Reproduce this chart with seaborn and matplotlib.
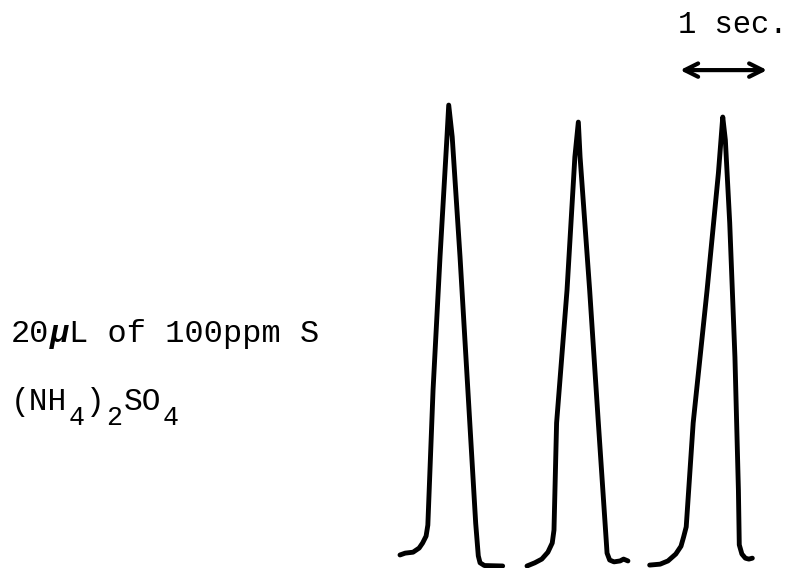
import numpy as np
import pandas as pd
import matplotlib
matplotlib.use("Agg")
import matplotlib.pyplot as plt
import matplotlib.transforms as mtransforms
import seaborn as sns

# ---- data: detector trace (time in s, signal in arbitrary units) ----
peak1_t = [0.00, 0.06, 0.15, 0.22, 0.26, 0.30, 0.32, 0.38, 0.46, 0.54, 0.56,
           0.60, 0.69, 0.78, 0.87, 0.90, 0.92, 0.97, 1.18]
peak1_s = [0.24, 0.28, 0.30, 0.39, 0.50, 0.65, 0.89, 3.83, 6.72, 9.33, 10.02,
           9.33, 6.72, 3.83, 0.93, 0.22, 0.07, 0.01, 0.00]

peak2_t = [1.46, 1.55, 1.63, 1.70, 1.75, 1.77, 1.80, 1.92, 2.01, 2.05,
           2.07, 2.18, 2.28, 2.37, 2.38, 2.41, 2.46, 2.53, 2.57, 2.62]
peak2_s = [0.00, 0.07, 0.15, 0.30, 0.50, 0.78, 3.11, 6.00, 8.89, 9.65,
           8.89, 6.00, 3.11, 0.57, 0.28, 0.13, 0.09, 0.11, 0.15, 0.11]

peak3_t = [2.87, 2.99, 3.08, 3.17, 3.23, 3.26, 3.29, 3.37, 3.53, 3.66, 3.71,
           3.74, 3.79, 3.85, 3.89, 3.90, 3.93, 3.97, 4.01, 4.05]
peak3_s = [0.02, 0.04, 0.11, 0.26, 0.43, 0.63, 0.85, 3.11, 6.00, 8.54, 9.76,
           9.26, 7.46, 4.54, 1.65, 0.46, 0.26, 0.17, 0.15, 0.17]

scale_bar = [3.22, 4.22]          # 1 second
scale_label = "1 sec."
line1_parts = [(0, "20", False), (2, "μ", True), (3, "L of 100ppm S", False)]
line2_parts = [(0, "(NH", False), (3, "4", True), (4, ")", False),
               (5, "2", True), (6, "SO", False), (8, "4", True)]

frames = []
for i, (t, s) in enumerate([(peak1_t, peak1_s), (peak2_t, peak2_s), (peak3_t, peak3_s)]):
    frames.append(pd.DataFrame({"time": t, "signal": s, "injection": i}))
df = pd.concat(frames, ignore_index=True)

sns.set_theme(style="white")
plt.rcParams["font.family"] = ["Liberation Mono", "DejaVu Sans Mono"]

fig = plt.figure(figsize=(7.92, 5.68), dpi=100)
ax = fig.add_axes([0, 0, 1, 1])

sns.lineplot(data=df, x="time", y="signal", units="injection", estimator=None,
             sort=False, color="black", linewidth=3.5, ax=ax, legend=False)
for ln in ax.get_lines():
    ln.set_solid_capstyle("round")
    ln.set_solid_joinstyle("round")

ax.set_xlim(-4.598, 4.506)
ax.set_ylim(-0.0435, 12.304)
ax.set_axis_off()

# scale bar
ax.annotate("", xy=(scale_bar[1], 10.78), xytext=(scale_bar[0], 10.78),
            arrowprops=dict(arrowstyle="<->", lw=3.0, color="black",
                            mutation_scale=24, shrinkA=0, shrinkB=0))
ax.text(scale_bar[0] - 0.03, 11.76, scale_label, ha="left", va="center",
        fontsize=22, color="black")

# sample description
x0 = -4.47
fs1 = 23.0
cw1 = 0.6 * fs1
for idx, txt, mu in line1_parts:
    tr = mtransforms.offset_copy(ax.transData, fig=fig, x=idx * cw1, y=0, units="points")
    ax.text(x0, 4.87, txt, transform=tr, ha="left", va="baseline", fontsize=fs1,
            color="black", fontweight="bold" if mu else "normal",
            fontstyle="italic" if mu else "normal")

fs2 = 22.5
cw2 = 0.6 * fs2
for idx, txt, sub in line2_parts:
    tr = mtransforms.offset_copy(ax.transData, fig=fig,
                                 x=idx * cw2 + (1 if sub else 0), y=0, units="points")
    ax.text(x0, 3.07 if sub else 3.39, txt, transform=tr, ha="left", va="baseline",
            fontsize=fs2 * 0.85 if sub else fs2, color="black")

fig.savefig("out.png", dpi=100)
